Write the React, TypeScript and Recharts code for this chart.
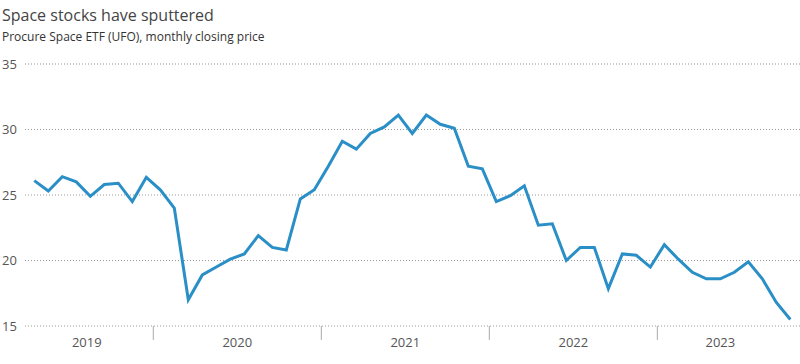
import { CartesianGrid, Line, LineChart, XAxis, YAxis } from "recharts";

// monthly closing price, Apr 2019 .. Oct 2023
const startMonth = "2019-04";
const prices = [
  26.1, 25.3, 26.4, 26.0, 24.9, 25.8, 25.9, 24.5, 26.35,
  25.4, 24.0, 17.0, 18.9, 19.5, 20.1, 20.5, 21.9, 21.0, 20.8, 24.7, 25.4, 27.2,
  29.1, 28.5, 29.7, 30.2, 31.1, 29.7, 31.1, 30.4, 30.1, 27.2, 27.0, 24.5,
  24.95, 25.7, 22.7, 22.8, 20.0, 21.0, 21.0, 17.85, 20.5, 20.4, 19.5,
  21.2, 20.1, 19.1, 18.6, 18.6, 19.1, 19.9, 18.6, 16.8, 15.5,
];

const yTicks = [15, 20, 25, 30, 35];
const years = ["2019", "2020", "2021", "2022", "2023"];
const yearLabelAt = [3.75, 14.5, 26.5, 38.5, 49];
const yearBoundaries = [8.5, 20.5, 32.5, 44.5];

const data = prices.map((p, i) => ({ i, month: startMonth, price: p }));

const FONT = "'Open Sans', sans-serif";

function YearTick(props: any) {
  const { x, y, payload } = props;
  const v = payload.value;
  if (yearBoundaries.includes(v)) {
    return <line x1={x} x2={x} y1={y} y2={y + 14} stroke="#aaa" strokeWidth={1} />;
  }
  const idx = yearLabelAt.indexOf(v);
  return (
    <text x={x} y={y + 21} textAnchor="middle" fontSize={13} fill="#555" fontFamily={FONT}>
      {years[idx]}
    </text>
  );
}

function PriceTick(props: any) {
  const { y, payload } = props;
  return (
    <text x={2} y={y + 4.5} textAnchor="start" fontSize={13} fill="#555" fontFamily={FONT}>
      {payload.value}
    </text>
  );
}

export default function App() {
  return (
    <div style={{ position: "absolute", left: 0, top: 0, width: 800, height: 364, background: "#fff", fontFamily: FONT }}>
      <div style={{ position: "absolute", left: 2, top: 4, fontSize: 16, color: "#444", whiteSpace: "nowrap" }}>
        Space stocks have sputtered
      </div>
      <div style={{ position: "absolute", left: 2, top: 28, fontSize: 12, color: "#333", whiteSpace: "nowrap" }}>
        Procure Space ETF (UFO), monthly closing price
      </div>
      <LineChart width={800} height={364} data={data} margin={{ top: 64, right: 0, left: 0, bottom: 0 }}>
        <CartesianGrid vertical={false} stroke="#999" strokeDasharray="1 2" />
        <XAxis
          dataKey="i"
          type="number"
          domain={[-0.664, 54.69]}
          ticks={[...yearBoundaries, ...yearLabelAt].sort((a, b) => a - b)}
          interval={0}
          tick={<YearTick />}
          tickLine={false}
          axisLine={false}
          tickSize={0}
          tickMargin={0}
          height={38}
          allowDataOverflow
        />
        <YAxis
          domain={[15, 35]}
          ticks={yTicks}
          tick={<PriceTick />}
          tickLine={false}
          axisLine={false}
          width={25}
          allowDataOverflow
        />
        <Line
          type="linear"
          dataKey="price"
          stroke="#2a8fc6"
          strokeWidth={3}
          dot={false}
          isAnimationActive={false}
        />
      </LineChart>
    </div>
  );
}
